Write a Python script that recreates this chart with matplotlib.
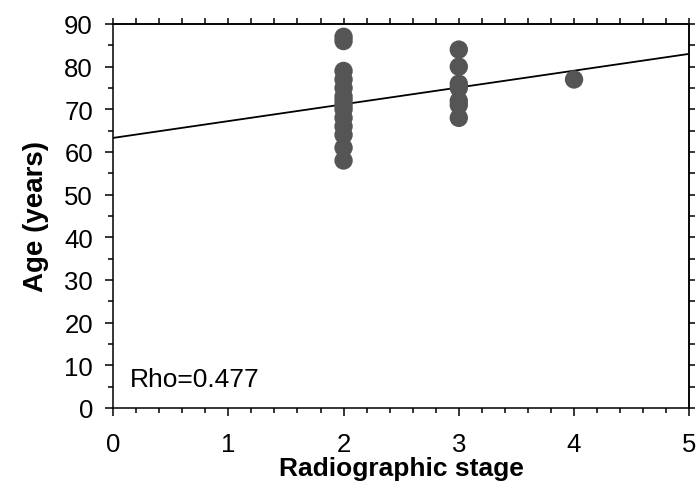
import numpy as np
import matplotlib
matplotlib.use("Agg")
import matplotlib.pyplot as plt
from matplotlib.ticker import MultipleLocator, NullFormatter

# Data
stage2_age = [87, 86, 79, 77, 75, 73, 72, 71, 70, 68, 66, 64, 61, 58]
stage3_age = [84, 80, 76, 75, 72, 71, 68]
stage4_age = [77]
fit_intercept = 63.3
fit_slope = 3.94
rho_text = "Rho=0.477"
x_label = "Radiographic stage"
y_label = "Age (years)"

plt.rcParams['font.family'] = ['Liberation Sans', 'DejaVu Sans']

fig = plt.figure(figsize=(6.98, 4.89), dpi=100)
ax = fig.add_axes([0.162, 0.1636, 0.8255, 0.7853])

xs = [2] * len(stage2_age) + [3] * len(stage3_age) + [4] * len(stage4_age)
ys = stage2_age + stage3_age + stage4_age
ax.scatter(xs, ys, s=175, color='#555555', edgecolors='none', zorder=3, clip_on=False)

xl = np.array([0, 5])
ax.plot(xl, fit_intercept + fit_slope * xl, color='black', lw=1.3, zorder=2)

ax.set_xlim(0, 5)
ax.set_ylim(0, 90)
ax.xaxis.set_major_locator(MultipleLocator(1))
ax.xaxis.set_minor_locator(MultipleLocator(0.2))
ax.yaxis.set_major_locator(MultipleLocator(10))
ax.yaxis.set_minor_locator(MultipleLocator(5))
ax.tick_params(which='both', direction='out', width=1.1, labelsize=18.5, colors='black')
ax.tick_params(which='major', length=6)
ax.tick_params(which='minor', length=3.5)
ax.tick_params(axis='x', which='major', pad=11)
ax.tick_params(axis='y', which='major', pad=8.5)
for sp in ax.spines.values():
    sp.set_linewidth(1.1)

# top and right tick marks (all same short length, no labels)
top = ax.secondary_xaxis('top')
top.xaxis.set_major_locator(MultipleLocator(1))
top.xaxis.set_minor_locator(MultipleLocator(0.2))
top.xaxis.set_major_formatter(NullFormatter())
top.tick_params(which='both', direction='out', length=4.5, width=1.1)
top.spines['top'].set_linewidth(1.1)
right = ax.secondary_yaxis('right')
right.yaxis.set_major_locator(MultipleLocator(10))
right.yaxis.set_minor_locator(MultipleLocator(5))
right.yaxis.set_major_formatter(NullFormatter())
right.tick_params(which='both', direction='out', length=4.5, width=1.1)
right.spines['right'].set_linewidth(1.1)

ax.set_xlabel(x_label, fontsize=19, fontweight='bold', labelpad=0)
ax.set_ylabel(y_label, fontsize=20, fontweight='bold', labelpad=11)
ax.text(0.03, 0.0755, rho_text, transform=ax.transAxes, fontsize=19, va='center', ha='left')

fig.savefig("out.png", dpi=100)
